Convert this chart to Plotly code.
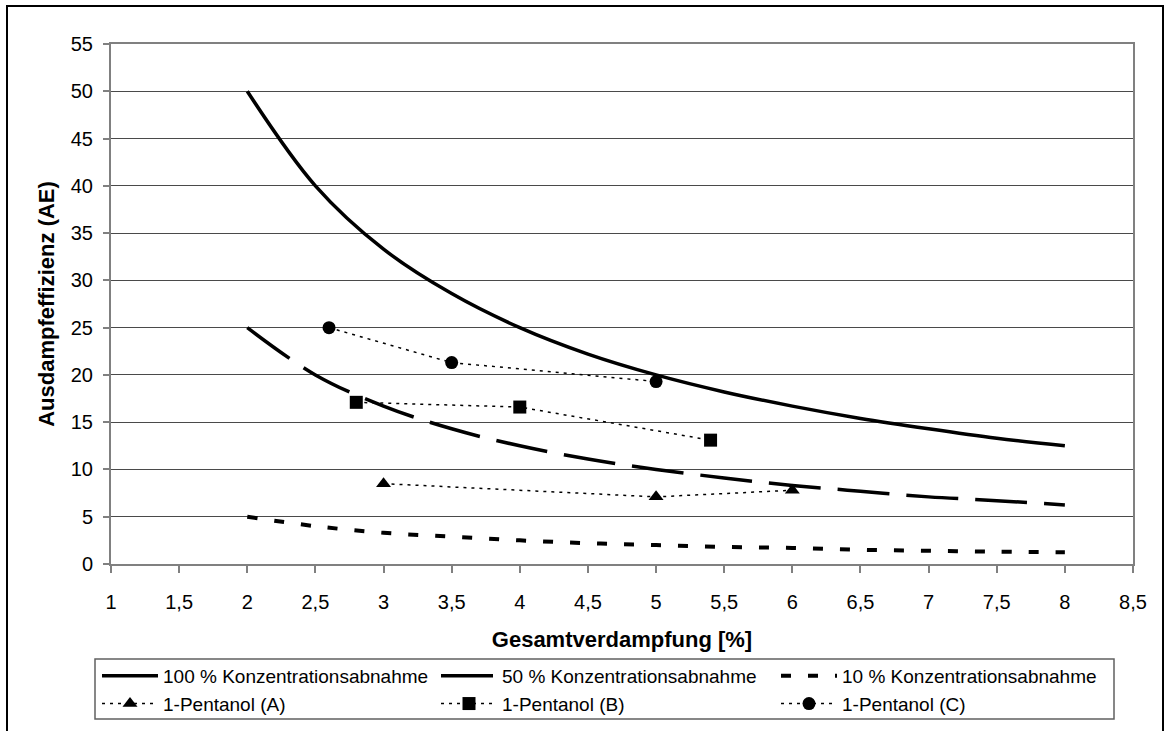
import plotly.graph_objects as go

# Gesamtverdampfung [%] for the model curves
x_model = [2, 2.5, 3, 3.5, 4, 4.5, 5, 5.5, 6, 6.5, 7, 7.5, 8]
ae_100 = [50, 40, 33.3, 28.6, 25, 22.2, 20, 18.2, 16.7, 15.4, 14.3, 13.3, 12.5]
ae_50 = [25, 20, 16.7, 14.3, 12.5, 11.1, 10, 9.1, 8.3, 7.7, 7.1, 6.7, 6.25]
ae_10 = [5, 4, 3.3, 2.9, 2.5, 2.2, 2, 1.8, 1.7, 1.5, 1.4, 1.3, 1.25]

# Measured 1-Pentanol series
x_pent_a = [3, 5, 6]
ae_pent_a = [8.5, 7.1, 7.8]
x_pent_b = [2.8, 4, 5.4]
ae_pent_b = [17.1, 16.6, 13.1]
x_pent_c = [2.6, 3.5, 5]
ae_pent_c = [25.0, 21.3, 19.3]

names = [
    "100 % Konzentrationsabnahme",
    "50 % Konzentrationsabnahme",
    "10 % Konzentrationsabnahme",
    "1-Pentanol (A)",
    "1-Pentanol (B)",
    "1-Pentanol (C)",
]

FONT = "Liberation Sans, Arial, sans-serif"
BLACK = "#000000"

fig = go.Figure()

# model curves
fig.add_trace(go.Scatter(
    x=x_model, y=ae_100, name=names[0], mode="lines",
    line=dict(color=BLACK, width=3.5, shape="spline"),
    legend="legend", legendgroup="g1"))
fig.add_trace(go.Scatter(
    x=x_model, y=ae_50, name=names[1], mode="lines",
    line=dict(color=BLACK, width=3.5, shape="spline", dash="52px,17px"),
    legend="legend2", legendgroup="g3"))
fig.add_trace(go.Scatter(
    x=x_model, y=ae_10, name=names[2], mode="lines",
    line=dict(color=BLACK, width=4, shape="spline", dash="10px,17px"),
    legend="legend3", legendgroup="g5"))

# measured series
dot_line = dict(color=BLACK, width=1.5, dash="3px,5px")
fig.add_trace(go.Scatter(
    x=x_pent_a, y=ae_pent_a, name=names[3], mode="lines+markers",
    line=dot_line, marker=dict(symbol="triangle-up", size=13, color=BLACK),
    legend="legend", legendgroup="g2"))
fig.add_trace(go.Scatter(
    x=x_pent_b, y=ae_pent_b, name=names[4], mode="lines+markers",
    line=dot_line, marker=dict(symbol="square", size=13, color=BLACK),
    legend="legend2", legendgroup="g4"))
fig.add_trace(go.Scatter(
    x=x_pent_c, y=ae_pent_c, name=names[5], mode="lines+markers",
    line=dot_line, marker=dict(symbol="circle", size=13, color=BLACK),
    legend="legend3", legendgroup="g6"))

# plot area in pixels: left 111, right 1133, top 44, bottom 564
L, R, T, B = 111, 1133, 44, 564


def px_x(p):
    return (p - L) / (R - L)


def px_y(p):
    return (B - p) / (B - T)


legend_common = dict(
    orientation="v", xanchor="left", yanchor="top",
    bgcolor="rgba(0,0,0,0)", borderwidth=0,
    font=dict(family=FONT, size=19, color=BLACK),
    itemwidth=56, tracegroupgap=4, traceorder="normal",
    itemclick=False, itemdoubleclick=False,
)
leg_top = px_y(657)

fig.update_layout(
    width=1170, height=731,
    margin=dict(l=L, r=1170 - R, t=T, b=731 - B, autoexpand=False),
    paper_bgcolor="white", plot_bgcolor="white",
    separators=",.",
    font=dict(family=FONT, color=BLACK),
    legend=dict(x=px_x(97), y=leg_top, **legend_common),
    legend2=dict(x=px_x(436), y=leg_top, **legend_common),
    legend3=dict(x=px_x(776), y=leg_top, **legend_common),
    xaxis=dict(
        range=[1, 8.5], tick0=1, dtick=0.5, automargin=False,
        showgrid=False, zeroline=False,
        showline=True, mirror=True, linecolor="#808080", linewidth=2,
        ticks="outside", ticklen=7, tickwidth=1.5, tickcolor="#808080",
        tickfont=dict(family=FONT, size=20, color=BLACK),
        ticklabelstandoff=12,
        title=dict(text="<b>Gesamtverdampfung [%]</b>",
                   font=dict(family=FONT, size=22, color=BLACK),
                   standoff=20),
    ),
    yaxis=dict(
        range=[0, 55], tick0=0, dtick=5, automargin=False,
        showgrid=True, gridcolor="#4a4a4a", gridwidth=1,
        zeroline=False,
        showline=True, mirror=True, linecolor="#808080", linewidth=2,
        ticks="outside", ticklen=6, tickwidth=1.5, tickcolor="#808080",
        tickfont=dict(family=FONT, size=20, color=BLACK),
        ticklabelstandoff=6,
        title=dict(text="<b>Ausdampfeffizienz (AE)</b>",
                   font=dict(family=FONT, size=22, color=BLACK),
                   standoff=10),
    ),
    shapes=[
        # legend frame
        dict(type="rect", xref="paper", yref="paper",
             x0=px_x(95), x1=px_x(1114), y0=px_y(719), y1=px_y(659),
             line=dict(color="#606060", width=1.5), fillcolor="rgba(0,0,0,0)",
             layer="below"),
        # outer chart frame
        dict(type="rect", xref="paper", yref="paper",
             x0=px_x(7), x1=px_x(1163), y0=px_y(760), y1=px_y(6),
             line=dict(color=BLACK, width=2), fillcolor="rgba(0,0,0,0)",
             layer="below"),
    ],
)

fig.write_html("out.html")
